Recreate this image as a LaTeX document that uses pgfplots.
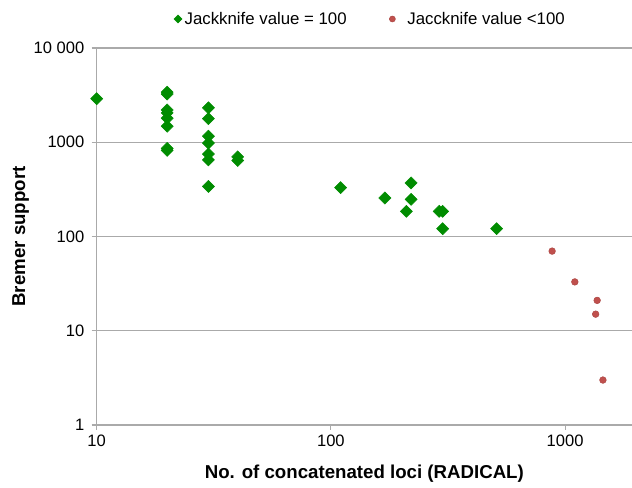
\documentclass[border=0pt]{standalone}
\usepackage{fontspec}
\setmainfont{Liberation Sans}
\usepackage{pgfplots}
\pgfplotsset{compat=1.18}
\definecolor{jkgreen}{RGB}{0,140,0}
\definecolor{jkred}{RGB}{192,80,77}
\definecolor{gridgray}{RGB}{170,170,170}

\begin{document}
\begin{tikzpicture}
\useasboundingbox (-72.5pt,-46.5pt) rectangle (401.5pt,318.75pt);
\begin{axis}[
    at={(0,0)}, anchor=south west,
    scale only axis,
    width=401.5pt,
    height=282.75pt,
    xmode=log, ymode=log,
    xmin=10, xmax=1930,
    ymin=1, ymax=10000,
    xtick={10,100,1000},
    xticklabels={10,100,1000},
    ytick={1,10,100,1000,10000},
    yticklabels={1,10,100,1000,10 000},
    xminorticks=false, yminorticks=false,
    axis x line*=bottom,
    axis y line*=left,
    axis line style={draw=gridgray, line width=0.8pt},
    tick style={draw=gridgray, line width=0.8pt},
    tick align=outside,
    major tick length=3.75pt,
    ymajorgrids,
    grid style={draw=gridgray, line width=0.8pt},
    /pgf/number format/assume math mode=true,
    ticklabel style={font=\fontsize{12.4}{14}\selectfont},
    yticklabel style={xshift=-2pt},
    xlabel={No. of concatenated loci (RADICAL)},
    ylabel={Bremer support},
    x label style={at={([yshift=-36.75pt]rel axis cs:0.5,0)}, anchor=center,
        font=\fontsize{14}{16}\selectfont\bfseries},
    y label style={at={([xshift=-57pt]rel axis cs:0,0.5)}, anchor=center, rotate=0,
        font=\fontsize{14}{16}\selectfont\bfseries},
    legend style={draw=none, fill=none,
        at={([yshift=21.75pt]rel axis cs:0.512,1)}, anchor=center,
        font=\fontsize{12.6}{15}\selectfont,
        /tikz/every even column/.append style={column sep=30pt}},
    legend columns=2,
    legend image code/.code={\draw[#1] plot coordinates {(0cm,0cm)};},
    clip=false
]
% jackknife = 100
\addplot[forget plot, only marks, mark=square*, mark size=3.2pt,
    mark options={rotate=45, fill=jkgreen, draw=jkgreen}]
coordinates {
(10,2900)
(20,3400) (20,3250) (20,2200) (20,2050) (20,1800) (20,1480) (20,860) (20,820)
(30,2320) (30,1780) (30,1160) (30,980) (30,750) (30,650) (30,340)
(40,700) (40,640)
(110,330) (170,256) (220,370) (220,248) (210,185)
(290,185) (300,185) (300,121) (510,121)
};
% jackknife < 100
\addplot[forget plot, only marks, mark=*, mark size=2.5pt,
    mark options={fill=jkred, draw=jkred!90!black}]
coordinates {
(880,70) (1100,33) (1370,21) (1350,15) (1450,3)
};
\addlegendimage{only marks, mark=square*, mark size=2.1pt,
    mark options={rotate=45, fill=jkgreen, draw=jkgreen}}
\addlegendentry{Jackknife value = 100}
\addlegendimage{only marks, mark=*, mark size=2.25pt,
    mark options={fill=jkred, draw=jkred!90!black}}
\addlegendentry{\hspace{7pt}Jaccknife value <100}
\end{axis}
\end{tikzpicture}
\end{document}
